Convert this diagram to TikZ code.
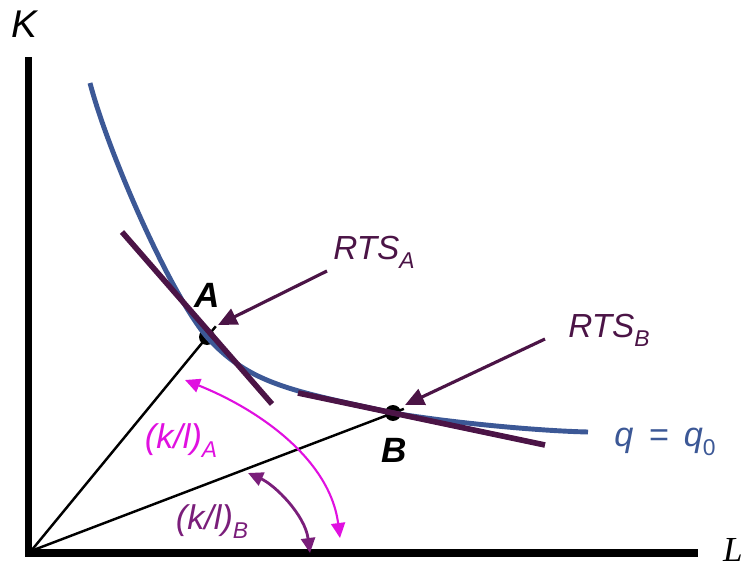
\documentclass[tikz,border=0pt]{standalone}
\usepackage{fontspec}
\setmainfont{Liberation Sans}
\newfontfamily\axisserif{Liberation Serif}
\usetikzlibrary{arrows.meta,calc}
\definecolor{isoblue}{HTML}{3C5896}
\definecolor{rtspurple}{HTML}{4B1446}
\definecolor{klmagenta}{HTML}{E010E0}
\definecolor{klpurple}{HTML}{7A1E7A}
\newcommand{\lowsub}[1]{\raisebox{-0.5ex}{\fontsize{13}{15}\selectfont #1}}
\tikzset{
  prodaxis/.style  = {line width=4pt, draw=black},
  isoquant/.style  = {line width=2.8pt, draw=isoblue},
  rtsline/.style   = {line width=3.2pt, draw=rtspurple},
  rayline/.style   = {line width=1.4pt, draw=black},
  rtsflow/.style   = {-{Triangle[length=3.8mm,width=3.4mm]}, line width=1.8pt, draw=rtspurple},
  klflowA/.style   = {{Triangle[length=3mm,width=2.8mm]}-{Triangle[length=3mm,width=2.8mm]},
                      line width=1.2pt, draw=klmagenta},
  klflowB/.style   = {{Triangle[length=3mm,width=2.8mm]}-{Triangle[length=3mm,width=2.8mm]},
                      line width=1.6pt, draw=klpurple},
  ptdot/.style     = {circle, fill=black, inner sep=0pt, minimum size=3.2mm},
  ptlbl/.style     = {font=\fontsize{20}{24}\selectfont\bfseries\itshape, inner sep=0pt},
  axlbl/.style     = {font=\fontsize{22}{26}\selectfont\itshape, inner sep=0pt},
  rtslbl/.style    = {font=\fontsize{19}{22}\selectfont\itshape, text=rtspurple, inner sep=0pt},
  kllbl/.style     = {font=\fontsize{19.5}{22}\selectfont\itshape, inner sep=0pt},
}

\begin{document}
\begin{tikzpicture}[x=0.02cm, y=-0.02cm]
  \useasboundingbox (0,0) rectangle (748,568);

  % axes
  \coordinate (ktop) at (28.5,57);
  \coordinate (lend) at (698,553);
  \coordinate (O)    at (31,551);
  \draw[prodaxis] (ktop) |- (lend);
  \node[axlbl] (klbl) at (24,24) {K};
  \node[axlbl, font=\fontsize{20}{24}\selectfont\axisserif\itshape] (llbl) at (733,550) {L};

  % tangency points
  \coordinate (A) at (207,337);
  \coordinate (B) at (393,413);

  % rays from the origin
  \draw[rayline] (O) -- ($(O)!1.05!(A)$);
  \draw[rayline] (O) -- ($(O)!1.03!(B)$);

  \node[ptdot] (dotA) at (A) {};
  \node[ptdot] (dotB) at (B) {};

  % isoquant
  \coordinate (qstart) at (90,83);
  \coordinate (qend)   at (588,432);
  \draw[isoquant] (qstart) .. controls (108,152) and (169.5,293) .. (A)
                  .. controls (250,385) and (294,391) .. (B)
                  .. controls (453,423) and (540,431) .. (qend);

  % tangents
  \coordinate (tA1) at (122,232);
  \coordinate (tA2) at (272,404);
  \coordinate (tB1) at (298,393);
  \coordinate (tB2) at (545,445);
  \draw[rtsline] (tA1) -- (tA2);
  \draw[rtsline] (tB1) -- (tB2);

  \node[ptlbl] (albl) at (207,295) {A};
  \node[ptlbl] (blbl) at (394,450) {B};
  \node[kllbl, text=isoblue] (qlbl) at (665,442) {\textit{q}\ \,=\ \,\textit{q}\lowsub{\upshape 0}};

  % RTS labels and pointers
  \node[rtslbl] (rtsA) at (374,252) {RTS\lowsub{A}};
  \node[rtslbl] (rtsB) at (609,330) {RTS\lowsub{B}};
  \coordinate (rtsAtail) at (327,271);
  \coordinate (rtsAtip)  at (218,325);
  \coordinate (rtsBtail) at (545,339);
  \coordinate (rtsBtip)  at (405,405);
  \draw[rtsflow] (rtsAtail) -- (rtsAtip);
  \draw[rtsflow] (rtsBtail) -- (rtsBtip);

  % capital-labour ratios
  \coordinate (klAtop) at (185,380);
  \coordinate (klAbot) at (340,538);
  \coordinate (klBtop) at (248,473);
  \coordinate (klBbot) at (310,553);
  \draw[klflowA] (klAtop) .. controls (260,410) and (330,460) .. (klAbot);
  \draw[klflowB] (klBtop) .. controls (275,485) and (305,515) .. (klBbot);
  \node[kllbl, text=klmagenta] (klA) at (181,441) {(k/l)\lowsub{A}};
  \node[kllbl, text=klpurple]  (klB) at (212,522) {(k/l)\lowsub{B}};
\end{tikzpicture}
\end{document}
